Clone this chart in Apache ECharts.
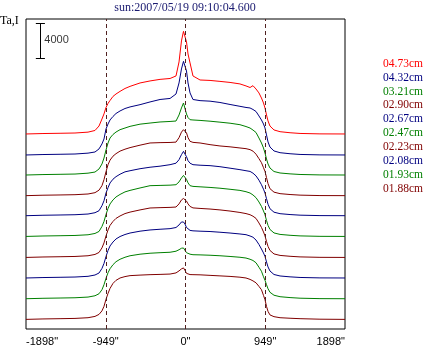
<!DOCTYPE html>
<html><head><meta charset="utf-8">
<script src="https://cdn.jsdelivr.net/npm/echarts@6/dist/echarts.min.js"></script>
<style>html,body{margin:0;padding:0;background:#fff}#c{width:423px;height:347px}</style>
</head><body><div id="c"></div>
<script>
// position along the solar east-west scan (arcsec)
const xArcsec = [-1898,-1696,-1493,-1315,-1160,-1077,-1029,-994,-970,-946,
  -922,-898,-863,-827,-779,-720,-660,-541,-422,-303,
  -184,-113,-77,-48,-24,-6,12,30,54,89,
  173,292,410,530,648,720,768,803,839,874,
  904,928,946,964,982,1005,1053,1125,1244,1363,
  1600,1898];

const xTicks = [-1898, -949, 0, 949, 1898];
const limbLines = [-949, 0, 949];

// wavelengths, bottom to top
const wavelengths = ['01.88cm','01.93cm','02.08cm','02.23cm','02.47cm','02.67cm','02.90cm','03.21cm','04.32cm','04.73cm'];
// stacking offsets (Ta units)
const offsets = [1100, 3460, 5830, 8180, 10580, 12950, 15240, 17600, 19890, 22290];

// profiles above each curve's own baseline (Ta units)
const ta188 = [0,50,80,110,190,340,570,970,1490,2290, 2970,3540,4110,4460,4730,4890,5000,5060,5110,5140,
  5180,5310,5540,5770,5880,5600,5260,5170,5120,5110, 5090,5030,4970,4910,4820,4730,4570,4400,4180,3770,
  3390,2740,2250,1490,910,510,310,190,130,80, 20,0];
const ta193 = [0,50,80,110,190,340,570,1030,1600,2340, 2970,3430,3890,4230,4510,4740,4910,5090,5200,5260,
  5310,5430,5600,5770,5800,5600,5260,5140,5090,5030, 5010,4970,4910,4830,4740,4650,4510,4370,4110,3600,
  3140,2510,2110,1600,1140,740,400,230,130,60, 10,0];
const ta208 = [0,50,80,110,190,340,570,1090,1660,2460, 3140,3660,4110,4460,4740,4970,5140,5350,5490,5570,
  5640,5770,6060,6400,6400,6170,5770,5600,5440,5390, 5350,5310,5230,5140,5030,4950,4800,4660,4340,3830,
  3310,2860,2470,1830,1260,800,400,230,130,60, 10,0];
const ta223 = [0,50,80,110,190,340,570,1090,1660,2460, 3140,3660,4110,4460,4740,5010,5180,5430,5650,5690,
  5720,5760,6120,6570,6740,6790,6440,6120,5830,5660, 5600,5530,5430,5300,5140,5010,4880,4710,4460,3940,
  3430,2910,2460,1830,1260,800,400,230,130,60, 10,0];
const ta247 = [0,50,80,110,190,340,570,1140,1710,2510, 3200,3710,4170,4510,4800,5090,5260,5540,5800,5830,
  5860,5910,6230,6680,6970,7050,6520,6120,5800,5720, 5670,5600,5510,5390,5260,5110,4960,4740,4430,3940,
  3430,2910,2480,1830,1260,800,400,230,130,60, 10,0];
const ta267 = [0,50,80,110,190,340,570,1140,1710,2590, 3200,3740,4170,4460,4740,5010,5140,5370,5540,5660,
  5830,6000,6400,6970,7350,7200,6740,6290,6000,5830, 5770,5720,5600,5430,5260,5140,5060,4860,4550,4060,
  3540,3030,2590,1940,1310,800,400,230,130,60, 10,0];
const ta290 = [0,50,80,110,190,340,630,1140,1830,2740, 3540,4060,4510,4800,5090,5310,5490,5770,6020,6060,
  6080,6120,6630,7260,7540,7350,7170,6630,6210,6090, 6020,5830,5680,5580,5450,5370,5260,5090,4740,4230,
  3770,3200,2780,2060,1370,800,400,230,130,60, 10,0];
const ta321 = [0,50,80,110,210,340,690,1260,1940,2860, 3660,4230,4630,4910,5180,5370,5560,5810,5940,6060,
  6120,6170,6860,7660,8230,8120,6970,6570,6320,6290, 6240,6150,6040,5920,5750,5540,5370,5140,4860,4230,
  3660,3090,2510,1830,1260,800,400,230,130,60, 10,0];
const ta432 = [0,50,80,110,210,340,690,1260,1830,2970, 3540,4000,4400,4740,5030,5310,5490,5750,6060,6340,
  6460,6970,8230,9830,10700,10700,9600,8230,7090,6340, 6210,6150,6000,5770,5560,5430,5370,5200,4970,4460,
  4000,3540,3090,2290,1490,910,460,260,140,60, 10,0];
const ta473 = [0,50,80,110,210,400,910,1710,2290,3030, 3490,3830,4290,4570,4870,5200,5440,5830,6060,6240,
  6340,6630,8230,10630,11730,11730,10520,9140,8120,6630, 6170,6120,6010,5890,5720,5490,5310,5520,5140,4690,
  4110,3540,2970,2170,1490,910,460,260,140,60, 10,0];

const profiles = [ta188, ta193, ta208, ta223, ta247, ta267, ta290, ta321, ta432, ta473];
const colors = ['#800000','#008000','#000080','#800000','#008000','#000080','#800000','#008000','#000080','#ff0000'];

// scale bar (Ta units)
const scaleBarValue = 4000;
const scaleBarX = -1727, scaleBarBase = 30890, scaleBarCap = 54;

const chart = echarts.init(document.getElementById('c'), null, {renderer:'canvas'});

const series = profiles.map((p, i) => ({
  type: 'line', name: wavelengths[i],
  data: xArcsec.map((x, j) => [x, offsets[i] + p[j]]),
  symbol: 'none', showSymbol: false,
  lineStyle: {color: colors[i], width: 1},
  itemStyle: {color: colors[i]},
  z: 2
}));

series.push({
  type: 'scatter', name: 'scale', silent: true,
  data: [[scaleBarX, scaleBarBase + scaleBarValue * 0.54]],
  symbolSize: 0,
  label: {show: true, position: 'right', distance: 4, formatter: String(scaleBarValue),
    color: '#000', fontFamily: 'Liberation Sans, Arial, sans-serif', fontSize: 11},
  markLine: {
    silent: true, symbol: ['none','none'], label: {show: false},
    lineStyle: {color: '#000', width: 1, type: 'solid'},
    data: [
      [{coord: [scaleBarX, scaleBarBase]}, {coord: [scaleBarX, scaleBarBase + scaleBarValue]}],
      [{coord: [scaleBarX - scaleBarCap, scaleBarBase]}, {coord: [scaleBarX + scaleBarCap, scaleBarBase]}],
      [{coord: [scaleBarX - scaleBarCap, scaleBarBase + scaleBarValue]}, {coord: [scaleBarX + scaleBarCap, scaleBarBase + scaleBarValue]}]
    ]
  },
  z: 3
});

series.push({
  type: 'line', name: 'limb', data: [], silent: true,
  markLine: {
    silent: true, symbol: ['none','none'], label: {show: false},
    lineStyle: {color: '#502020', width: 1, type: [4, 3]},
    data: limbLines.map(v => ({xAxis: v}))
  },
  z: 5
});

chart.setOption({
  animation: false,
  backgroundColor: '#ffffff',
  title: {
    text: 'sun:2007/05/19 09:10:04.600',
    left: 185, top: 1, padding: 0, textAlign: 'center',
    textStyle: {color: '#1a1a70', fontFamily: 'Liberation Serif, Times New Roman, serif', fontSize: 12, fontWeight: 'normal', lineHeight: 13}
  },
  graphic: [{
    type: 'text', left: 0, top: 15,
    style: {text: 'Ta,I', fill: '#000', font: '12px "Liberation Serif", serif'}
  }],
  legend: {
    orient: 'vertical', left: 378, top: 57, padding: 0,
    icon: 'none', itemWidth: 0, itemHeight: 10, itemGap: 0,
    selectedMode: false,
    textStyle: {fontFamily: 'Liberation Serif, Times New Roman, serif', fontSize: 11.5, lineHeight: 13.85},
    data: wavelengths.slice().reverse().map((n) => ({name: n, textStyle: {color: colors[wavelengths.indexOf(n)]}}))
  },
  grid: {left: 26, right: 78, top: 19, bottom: 18, show: true, borderColor: '#000', borderWidth: 1, backgroundColor: '#ffffff'},
  xAxis: {
    type: 'value', min: xTicks[0], max: xTicks[xTicks.length - 1], interval: 949,
    axisLine: {show: false}, axisTick: {show: false}, splitLine: {show: false},
    axisLabel: {color: '#000', fontFamily: 'Liberation Sans, Arial, sans-serif', fontSize: 11, margin: 7,
      alignMinLabel: 'left', alignMaxLabel: 'right',
      formatter: v => v + '"'}
  },
  yAxis: {type: 'value', min: 0, max: 35430, show: false, splitLine: {show: false}},
  series: series
});
</script></body></html>
